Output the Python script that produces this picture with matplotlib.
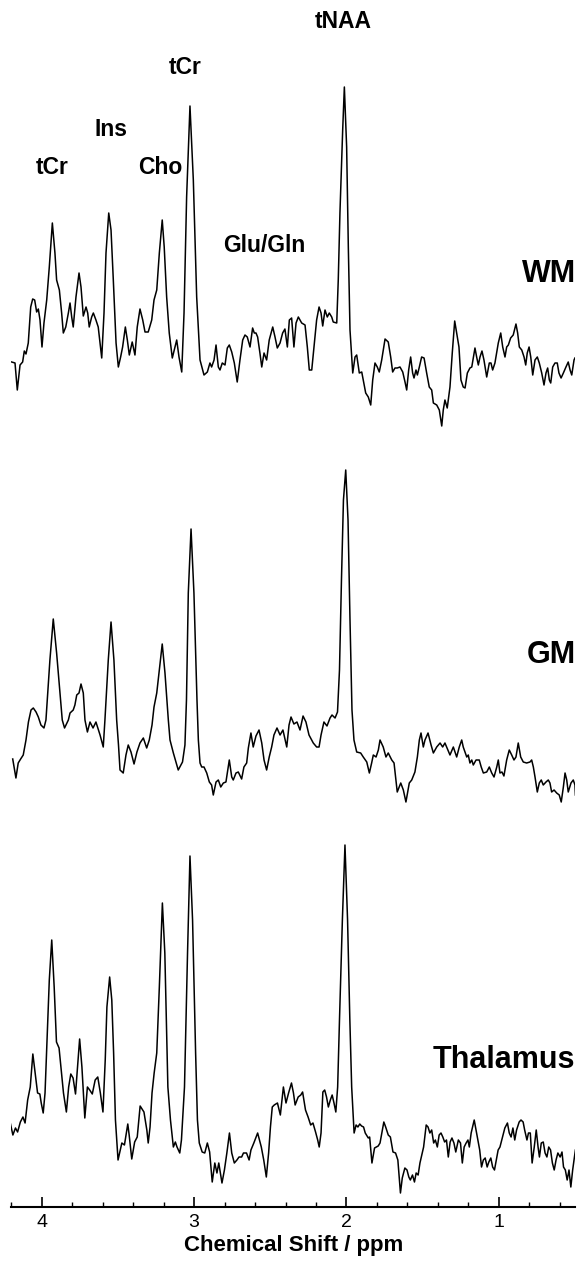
import numpy as np
import matplotlib
matplotlib.use("Agg")
import matplotlib.pyplot as plt
from matplotlib.ticker import MultipleLocator

plt.rcParams['font.family'] = ['Liberation Sans', 'DejaVu Sans']

# spectra: chemical shift (ppm) and intensity (a.u.)
wm_ppm = [4.197, 4.175, 4.160, 4.142, 4.125, 4.114, 4.103, 4.088, 4.072, 4.059,
          4.046, 4.033, 4.022, 4.011, 3.998, 3.985, 3.967, 3.950, 3.930, 3.913,
          3.902, 3.884, 3.869, 3.858, 3.842, 3.825, 3.814, 3.803, 3.793, 3.775,
          3.755, 3.742, 3.727, 3.709, 3.698, 3.688, 3.672, 3.661, 3.644, 3.629,
          3.606, 3.591, 3.578, 3.560, 3.545, 3.530, 3.512, 3.497, 3.482, 3.469,
          3.451, 3.438, 3.425, 3.406, 3.388, 3.373, 3.355, 3.337, 3.322, 3.301,
          3.278, 3.263, 3.245, 3.228, 3.209, 3.196, 3.180, 3.163, 3.143, 3.130,
          3.114, 3.099, 3.081, 3.066, 3.049, 3.027, 3.005, 2.983, 2.961, 2.935,
          2.913, 2.896, 2.885, 2.869, 2.856, 2.841, 2.830, 2.815, 2.797, 2.782,
          2.769, 2.753, 2.736, 2.717, 2.699, 2.681, 2.666, 2.651, 2.633, 2.616,
          2.605, 2.594, 2.583, 2.568, 2.556, 2.541, 2.524, 2.507, 2.484, 2.469,
          2.454, 2.436, 2.419, 2.404, 2.388, 2.375, 2.360, 2.345, 2.331, 2.316,
          2.294, 2.272, 2.257, 2.244, 2.228, 2.213, 2.196, 2.180, 2.167, 2.156,
          2.141, 2.126, 2.113, 2.097, 2.087, 2.064, 2.054, 2.043, 2.025, 2.014,
          1.999, 1.988, 1.977, 1.959, 1.944, 1.933, 1.916, 1.900, 1.890, 1.874,
          1.857, 1.841, 1.828, 1.813, 1.798, 1.785, 1.769, 1.747, 1.726, 1.710,
          1.697, 1.682, 1.667, 1.649, 1.631, 1.616, 1.605, 1.592, 1.579, 1.566,
          1.557, 1.544, 1.535, 1.522, 1.507, 1.491, 1.474, 1.457, 1.441, 1.430,
          1.408, 1.391, 1.375, 1.365, 1.354, 1.339, 1.321, 1.306, 1.290, 1.273,
          1.262, 1.249, 1.234, 1.222, 1.207, 1.190, 1.178, 1.168, 1.157, 1.146,
          1.135, 1.124, 1.111, 1.098, 1.080, 1.063, 1.052, 1.041, 1.026, 1.004,
          0.988, 0.975, 0.960, 0.949, 0.938, 0.923, 0.906, 0.888, 0.877, 0.866,
          0.850, 0.835, 0.824, 0.814, 0.802, 0.791, 0.778, 0.763, 0.748, 0.735,
          0.719, 0.704, 0.691, 0.680, 0.669, 0.660, 0.647, 0.632, 0.617, 0.606,
          0.592, 0.577, 0.560, 0.545, 0.533, 0.522, 0.507, 0.501]
wm_int = [68, 67, 40, 65, 68, 79, 76, 87, 123, 131,
          130, 118, 121, 110, 83, 107, 130, 163, 207, 177,
          150, 140, 117, 97, 103, 117, 127, 113, 103, 133,
          157, 143, 114, 123, 117, 103, 113, 117, 110, 103,
          72, 117, 177, 217, 200, 150, 87, 63, 73, 83,
          103, 90, 75, 88, 75, 103, 121, 110, 98, 98,
          110, 130, 140, 177, 210, 183, 133, 97, 72, 80,
          90, 73, 58, 117, 233, 324, 250, 133, 70, 55,
          58, 67, 63, 70, 85, 63, 60, 67, 65, 82,
          85, 78, 67, 48, 70, 90, 95, 93, 83, 102,
          97, 97, 93, 77, 63, 77, 70, 90, 103, 93,
          82, 87, 97, 101, 83, 110, 112, 83, 107, 113,
          107, 105, 83, 60, 60, 83, 110, 123, 117, 104,
          120, 113, 117, 113, 108, 107, 150, 217, 300, 343,
          283, 183, 100, 57, 73, 75, 57, 58, 50, 37,
          33, 25, 50, 67, 63, 58, 70, 91, 88, 73,
          58, 62, 62, 63, 58, 48, 40, 60, 73, 57,
          52, 60, 55, 63, 73, 72, 57, 43, 40, 27,
          25, 20, 4, 20, 30, 22, 43, 77, 109, 93,
          83, 50, 43, 42, 57, 62, 63, 72, 82, 73,
          65, 73, 79, 70, 53, 67, 67, 60, 67, 87,
          97, 83, 73, 83, 85, 92, 95, 106, 97, 83,
          80, 73, 65, 77, 83, 73, 55, 70, 73, 67,
          57, 45, 57, 62, 50, 47, 63, 67, 67, 57,
          52, 57, 63, 68, 60, 55, 70, 72]

gm_ppm = [4.190, 4.169, 4.154, 4.138, 4.121, 4.103, 4.087, 4.070, 4.055, 4.037,
          4.022, 4.005, 3.985, 3.972, 3.946, 3.924, 3.902, 3.880, 3.865, 3.850,
          3.825, 3.814, 3.793, 3.782, 3.770, 3.755, 3.742, 3.727, 3.716, 3.700,
          3.683, 3.663, 3.644, 3.617, 3.596, 3.585, 3.563, 3.545, 3.526, 3.508,
          3.496, 3.486, 3.465, 3.447, 3.432, 3.414, 3.394, 3.375, 3.355, 3.333,
          3.311, 3.294, 3.276, 3.263, 3.245, 3.209, 3.191, 3.169, 3.158, 3.136,
          3.104, 3.076, 3.060, 3.050, 3.038, 3.020, 3.001, 2.981, 2.972, 2.961,
          2.950, 2.935, 2.917, 2.900, 2.885, 2.874, 2.856, 2.841, 2.825, 2.808,
          2.791, 2.769, 2.753, 2.743, 2.725, 2.710, 2.688, 2.673, 2.655, 2.644,
          2.627, 2.612, 2.594, 2.574, 2.556, 2.541, 2.524, 2.507, 2.491, 2.476,
          2.456, 2.436, 2.417, 2.392, 2.377, 2.364, 2.345, 2.325, 2.305, 2.285,
          2.266, 2.246, 2.218, 2.196, 2.180, 2.167, 2.148, 2.128, 2.108, 2.095,
          2.075, 2.059, 2.046, 2.033, 2.020, 2.005, 1.990, 1.977, 1.964, 1.951,
          1.933, 1.907, 1.890, 1.867, 1.850, 1.835, 1.824, 1.806, 1.791, 1.780,
          1.759, 1.741, 1.726, 1.703, 1.688, 1.667, 1.644, 1.627, 1.610, 1.588,
          1.572, 1.551, 1.535, 1.522, 1.511, 1.496, 1.485, 1.465, 1.445, 1.430,
          1.408, 1.386, 1.369, 1.354, 1.343, 1.321, 1.299, 1.277, 1.260, 1.244,
          1.234, 1.211, 1.201, 1.190, 1.178, 1.168, 1.150, 1.129, 1.116, 1.102,
          1.080, 1.063, 1.047, 1.032, 1.014, 1.004, 0.993, 0.980, 0.967, 0.949,
          0.932, 0.916, 0.901, 0.888, 0.873, 0.857, 0.840, 0.818, 0.796, 0.785,
          0.774, 0.763, 0.748, 0.735, 0.722, 0.709, 0.691, 0.676, 0.665, 0.654,
          0.638, 0.621, 0.604, 0.591, 0.577, 0.566, 0.555, 0.545, 0.527, 0.512,
          0.501, 0.498]
gm_int = [51, 32, 47, 51, 55, 70, 88, 100, 102, 98,
          93, 85, 82, 90, 150, 191, 157, 117, 90, 82,
          90, 97, 100, 105, 115, 117, 126, 117, 90, 78,
          88, 82, 88, 75, 63, 90, 150, 188, 150, 90,
          65, 40, 37, 55, 65, 58, 46, 58, 67, 72,
          62, 70, 85, 103, 117, 166, 137, 90, 70, 57,
          40, 48, 65, 110, 217, 281, 217, 110, 70, 47,
          43, 43, 37, 28, 25, 15, 28, 30, 23, 27,
          28, 50, 33, 30, 37, 38, 31, 43, 47, 62,
          77, 63, 74, 80, 67, 50, 40, 53, 63, 75,
          82, 75, 80, 63, 85, 93, 86, 88, 80, 94,
          88, 75, 67, 63, 63, 75, 88, 84, 92, 95,
          92, 98, 140, 230, 310, 340, 290, 190, 100, 70,
          58, 57, 53, 48, 37, 47, 55, 53, 60, 70,
          63, 53, 57, 50, 47, 18, 27, 20, 8, 27,
          30, 38, 53, 70, 77, 63, 70, 77, 65, 57,
          63, 67, 63, 67, 63, 55, 63, 53, 63, 70,
          63, 53, 55, 47, 50, 45, 50, 50, 43, 37,
          38, 43, 37, 33, 43, 50, 37, 38, 34, 50,
          60, 55, 50, 53, 67, 53, 48, 47, 48, 50,
          43, 33, 18, 27, 30, 25, 28, 30, 27, 18,
          20, 17, 15, 8, 23, 37, 30, 18, 27, 30,
          25, 15]

th_ppm = [4.206, 4.189, 4.172, 4.158, 4.140, 4.123, 4.109, 4.092, 4.075, 4.058,
          4.043, 4.027, 4.012, 4.003, 3.990, 3.978, 3.964, 3.950, 3.934, 3.918,
          3.903, 3.886, 3.874, 3.857, 3.838, 3.823, 3.809, 3.794, 3.778, 3.765,
          3.751, 3.736, 3.717, 3.700, 3.685, 3.668, 3.649, 3.632, 3.615, 3.598,
          3.583, 3.572, 3.554, 3.540, 3.528, 3.516, 3.499, 3.474, 3.457, 3.435,
          3.426, 3.409, 3.390, 3.373, 3.354, 3.329, 3.310, 3.301, 3.289, 3.276,
          3.262, 3.245, 3.228, 3.208, 3.192, 3.172, 3.155, 3.136, 3.123, 3.112,
          3.094, 3.083, 3.063, 3.043, 3.027, 3.010, 2.990, 2.978, 2.966, 2.947,
          2.930, 2.913, 2.898, 2.881, 2.864, 2.850, 2.838, 2.825, 2.817, 2.801,
          2.785, 2.768, 2.753, 2.736, 2.719, 2.705, 2.688, 2.676, 2.656, 2.639,
          2.627, 2.608, 2.583, 2.559, 2.543, 2.526, 2.511, 2.499, 2.487, 2.474,
          2.453, 2.434, 2.414, 2.397, 2.380, 2.361, 2.348, 2.337, 2.317, 2.300,
          2.288, 2.269, 2.252, 2.235, 2.220, 2.203, 2.189, 2.179, 2.167, 2.155,
          2.143, 2.131, 2.119, 2.106, 2.094, 2.082, 2.070, 2.058, 2.046, 2.027,
          2.010, 1.993, 1.978, 1.966, 1.950, 1.937, 1.925, 1.913, 1.901, 1.888,
          1.877, 1.857, 1.848, 1.833, 1.816, 1.804, 1.792, 1.780, 1.768, 1.755,
          1.743, 1.726, 1.712, 1.695, 1.678, 1.663, 1.646, 1.634, 1.617, 1.603,
          1.591, 1.581, 1.567, 1.554, 1.543, 1.530, 1.518, 1.509, 1.494, 1.477,
          1.465, 1.453, 1.441, 1.428, 1.417, 1.404, 1.392, 1.380, 1.368, 1.356,
          1.344, 1.332, 1.320, 1.308, 1.295, 1.283, 1.266, 1.252, 1.240, 1.228,
          1.215, 1.203, 1.194, 1.182, 1.162, 1.150, 1.138, 1.126, 1.114, 1.102,
          1.090, 1.077, 1.066, 1.053, 1.041, 1.029, 1.017, 1.005, 0.993, 0.981,
          0.961, 0.944, 0.932, 0.920, 0.908, 0.896, 0.884, 0.867, 0.855, 0.841,
          0.831, 0.816, 0.806, 0.794, 0.782, 0.768, 0.755, 0.743, 0.734, 0.722,
          0.709, 0.697, 0.685, 0.673, 0.661, 0.649, 0.637, 0.625, 0.613, 0.598,
          0.586, 0.576, 0.564, 0.552, 0.540, 0.528, 0.516, 0.498]
th_int = [77, 65, 72, 68, 78, 83, 77, 100, 113, 146,
          127, 107, 106, 97, 87, 107, 163, 220, 260, 213,
          158, 152, 133, 107, 88, 113, 126, 122, 106, 133,
          161, 133, 82, 113, 110, 106, 120, 123, 107, 88,
          140, 193, 223, 200, 147, 80, 40, 57, 55, 76,
          65, 41, 58, 63, 94, 88, 70, 57, 73, 107,
          127, 147, 213, 297, 247, 113, 80, 53, 58, 53,
          47, 60, 113, 247, 344, 280, 147, 80, 57, 48,
          47, 57, 48, 18, 37, 27, 37, 25, 17, 30,
          47, 67, 47, 37, 40, 43, 43, 47, 47, 40,
          50, 57, 67, 53, 40, 23, 47, 73, 93, 95,
          97, 85, 113, 97, 107, 117, 107, 95, 103, 105,
          108, 90, 83, 75, 77, 68, 60, 53, 67, 108,
          110, 103, 93, 100, 105, 97, 88, 113, 180, 280,
          355, 280, 180, 113, 67, 75, 73, 76, 74, 73,
          67, 62, 63, 37, 52, 53, 54, 57, 67, 78,
          73, 65, 63, 48, 47, 40, 7, 22, 32, 30,
          23, 20, 25, 18, 27, 25, 37, 43, 53, 75,
          73, 67, 70, 57, 60, 53, 65, 67, 63, 58,
          60, 43, 58, 62, 57, 48, 60, 57, 37, 53,
          57, 60, 53, 67, 80, 70, 60, 50, 33, 40,
          42, 33, 38, 42, 33, 30, 40, 50, 53, 60,
          72, 77, 67, 63, 72, 60, 70, 78, 80, 78,
          70, 60, 67, 67, 37, 53, 70, 53, 43, 57,
          58, 47, 43, 53, 50, 37, 30, 40, 47, 43,
          48, 33, 30, 20, 30, 13, 30, 50]

# vertical offset of each trace
offsets = {'WM': 777, 'GM': 397, 'Thalamus': 7}

fig = plt.figure(figsize=(5.77, 12.65), dpi=100)
ax = fig.add_axes([11.2 / 577, 58 / 1265, 563.9 / 577, 1207 / 1265])

for ppm, inten, name in [(wm_ppm, wm_int, 'WM'), (gm_ppm, gm_int, 'GM'),
                         (th_ppm, th_int, 'Thalamus')]:
    ax.plot(ppm, np.array(inten) + offsets[name], color='black', lw=1.1)

ax.set_xlim(4.2, 0.5)
ax.set_ylim(0, 1207)

for s in ['top', 'left', 'right']:
    ax.spines[s].set_visible(False)
ax.spines['bottom'].set_linewidth(1.5)
ax.set_yticks([])
ax.xaxis.set_major_locator(MultipleLocator(1))
ax.xaxis.set_minor_locator(MultipleLocator(0.2))
ax.tick_params(axis='x', which='major', direction='in', length=7.2, width=1.2,
               labelsize=14, pad=5.3)
ax.tick_params(axis='x', which='minor', direction='in', length=3.6, width=1.0)
ax.set_xlabel('Chemical Shift / ppm', fontsize=16, fontweight='bold', labelpad=2.7)

# metabolite labels
peak_labels = [('tCr', 3.929, 1039), ('Ins', 3.542, 1078), ('Cho', 3.220, 1039),
               ('tCr', 3.060, 1139), ('tNAA', 2.023, 1185), ('Glu/Gln', 2.541, 961)]
for txt, x, y in peak_labels:
    ax.text(x, y, txt, ha='center', va='center', fontsize=16.5, fontweight='bold')

region_labels = [('WM', 576 / 577, 0.7834), ('GM', 576 / 577, 0.4822),
                 ('Thalamus', 575.5 / 577, 0.1621)]
for txt, x, y in region_labels:
    fig.text(x, y, txt, ha='right', va='center', fontsize=22, fontweight='bold')

fig.savefig('out.png', dpi=100)
